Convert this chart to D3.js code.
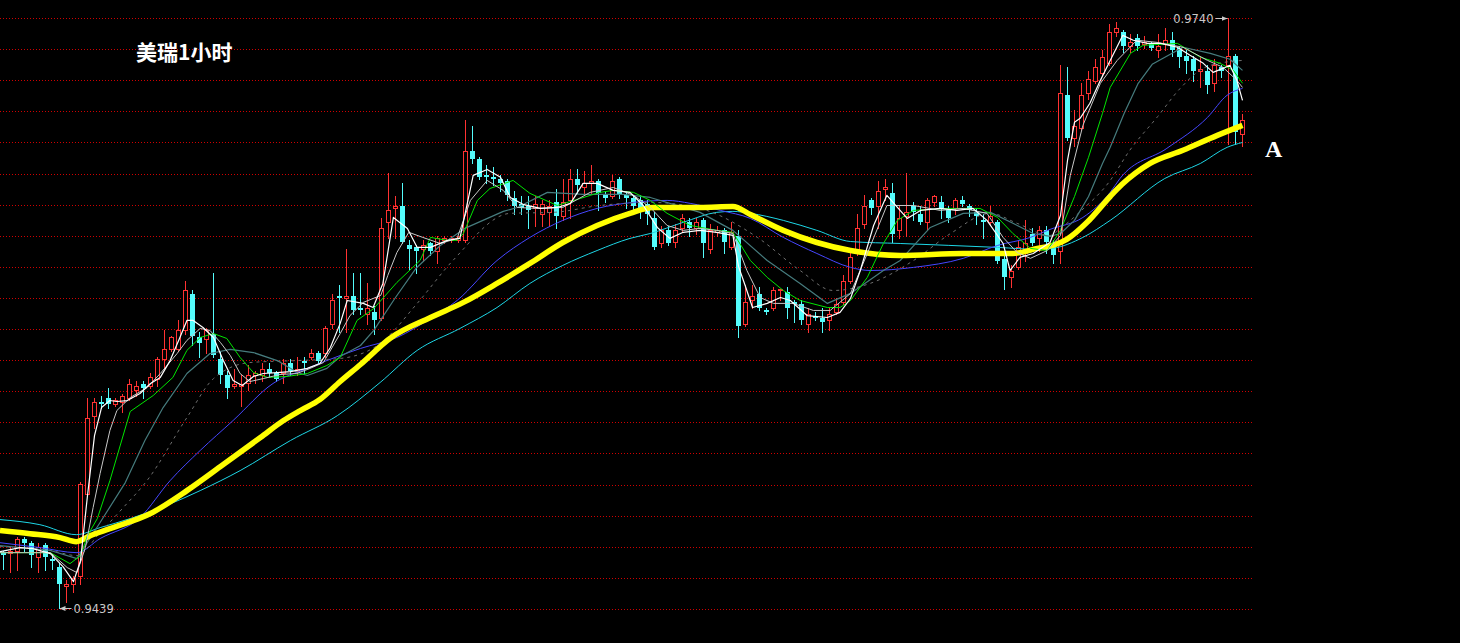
<!DOCTYPE html>
<html><head><meta charset="utf-8">
<script src="https://cdn.jsdelivr.net/npm/d3@7"></script>
<style>html,body{margin:0;padding:0;background:#000;overflow:hidden}svg{display:block}</style>
</head><body>
<svg id="chart" width="1460" height="643"></svg>
<script>
// ---- data: hourly OHLC candles ----
const open = [
0.9467,0.9467,0.9468,0.9474,0.9472,0.9465,0.9471,0.9464,0.9460,0.9450,
0.9451,0.9455,0.9497,0.9537,0.9544,0.9546,0.9543,0.9544,0.9546,0.9550,
0.9553,0.9552,0.9556,0.9566,0.9571,0.9571,0.9581,0.9599,0.9577,0.9576,
0.9579,0.9566,0.9558,0.9552,0.9552,0.9554,0.9558,0.9558,0.9561,0.9559,
0.9559,0.9564,0.9560,0.9565,0.9567,0.9569,0.9569,0.9584,0.9598,0.9597,
0.9598,0.9592,0.9589,0.9590,0.9587,0.9636,0.9643,0.9644,0.9624,0.9623,
0.9622,0.9625,0.9621,0.9627,0.9627,0.9627,0.9627,0.9672,0.9668,0.9660,
0.9659,0.9658,0.9657,0.9648,0.9645,0.9644,0.9643,0.9640,0.9641,0.9646,
0.9639,0.9647,0.9658,0.9654,0.9656,0.9657,0.9650,0.9649,0.9658,0.9650,
0.9648,0.9647,0.9645,0.9638,0.9625,0.9632,0.9626,0.9633,0.9636,0.9633,
0.9637,0.9622,0.9631,0.9632,0.9623,0.9629,0.9584,0.9596,0.9599,0.9591,
0.9592,0.9601,0.9600,0.9595,0.9594,0.9584,0.9588,0.9587,0.9586,0.9590,
0.9595,0.9606,0.9621,0.9635,0.9647,0.9644,0.9653,0.9651,0.9632,0.9639,
0.9644,0.9640,0.9636,0.9646,0.9646,0.9642,0.9643,0.9647,0.9644,0.9641,
0.9637,0.9636,0.9636,0.9617,0.9608,0.9613,0.9620,0.9630,0.9628,0.9632,
0.9623,0.9621,0.9701,0.9679,0.9684,0.9702,0.9708,0.9712,0.9717,0.9733,
0.9733,0.9726,0.9730,0.9727,0.9727,0.9724,0.9727,0.9729,0.9725,0.9721,
0.9719,0.9713,0.9713,0.9707,0.9715,0.9716,0.9721,0.9681];
const high = [
0.9468,0.9470,0.9475,0.9475,0.9473,0.9472,0.9472,0.9466,0.9462,0.9453,
0.9455,0.9503,0.9546,0.9546,0.9547,0.9551,0.9546,0.9548,0.9556,0.9555,
0.9555,0.9559,0.9567,0.9581,0.9578,0.9586,0.9606,0.9601,0.9580,0.9582,
0.9610,0.9570,0.9560,0.9561,0.9558,0.9563,0.9560,0.9564,0.9564,0.9560,
0.9566,0.9566,0.9567,0.9567,0.9571,0.9570,0.9583,0.9599,0.9604,0.9622,
0.9610,0.9610,0.9605,0.9593,0.9638,0.9661,0.9649,0.9656,0.9627,0.9624,
0.9627,0.9626,0.9629,0.9629,0.9629,0.9629,0.9688,0.9685,0.9669,0.9665,
0.9664,0.9660,0.9658,0.9652,0.9649,0.9649,0.9649,0.9647,0.9647,0.9653,
0.9658,0.9663,0.9663,0.9662,0.9665,0.9658,0.9652,0.9660,0.9659,0.9652,
0.9650,0.9650,0.9647,0.9641,0.9634,0.9634,0.9635,0.9640,0.9638,0.9638,
0.9638,0.9635,0.9634,0.9633,0.9636,0.9632,0.9604,0.9604,0.9603,0.9592,
0.9603,0.9602,0.9603,0.9596,0.9596,0.9592,0.9590,0.9592,0.9592,0.9597,
0.9609,0.9620,0.9640,0.9650,0.9648,0.9657,0.9658,0.9656,0.9644,0.9661,
0.9646,0.9644,0.9648,0.9650,0.9649,0.9644,0.9648,0.9649,0.9645,0.9643,
0.9640,0.9644,0.9637,0.9620,0.9614,0.9627,0.9637,0.9633,0.9634,0.9634,
0.9627,0.9716,0.9715,0.9693,0.9707,0.9713,0.9719,0.9724,0.9737,0.9738,
0.9734,0.9732,0.9732,0.9731,0.9728,0.9732,0.9735,0.9733,0.9726,0.9724,
0.9721,0.9720,0.9716,0.9719,0.9716,0.9740,0.9722,0.9691];
const low = [
0.9459,0.9457,0.9458,0.9468,0.9460,0.9457,0.9458,0.9459,0.9439,0.9442,
0.9447,0.9451,0.9496,0.9531,0.9541,0.9541,0.9542,0.9539,0.9545,0.9547,
0.9546,0.9551,0.9552,0.9562,0.9570,0.9570,0.9579,0.9573,0.9567,0.9569,
0.9567,0.9554,0.9546,0.9551,0.9542,0.9550,0.9554,0.9555,0.9557,0.9555,
0.9554,0.9558,0.9558,0.9559,0.9566,0.9564,0.9567,0.9582,0.9580,0.9580,
0.9589,0.9589,0.9584,0.9579,0.9586,0.9628,0.9628,0.9625,0.9612,0.9610,
0.9616,0.9619,0.9615,0.9625,0.9626,0.9626,0.9626,0.9666,0.9658,0.9656,
0.9655,0.9652,0.9647,0.9640,0.9640,0.9633,0.9634,0.9634,0.9634,0.9633,
0.9637,0.9638,0.9651,0.9651,0.9651,0.9642,0.9646,0.9648,0.9648,0.9643,
0.9642,0.9638,0.9635,0.9622,0.9623,0.9624,0.9623,0.9631,0.9629,0.9630,
0.9618,0.9620,0.9629,0.9620,0.9622,0.9577,0.9583,0.9592,0.9591,0.9589,
0.9591,0.9596,0.9587,0.9585,0.9584,0.9580,0.9586,0.9580,0.9581,0.9589,
0.9594,0.9605,0.9619,0.9633,0.9640,0.9633,0.9647,0.9626,0.9628,0.9629,
0.9637,0.9635,0.9632,0.9644,0.9638,0.9636,0.9640,0.9644,0.9639,0.9635,
0.9628,0.9635,0.9615,0.9602,0.9603,0.9612,0.9616,0.9624,0.9621,0.9620,
0.9615,0.9615,0.9678,0.9675,0.9683,0.9699,0.9707,0.9711,0.9716,0.9731,
0.9723,0.9723,0.9724,0.9725,0.9724,0.9720,0.9724,0.9721,0.9715,0.9712,
0.9708,0.9705,0.9702,0.9703,0.9710,0.9676,0.9676,0.9675];
const close = [
0.9466,0.9468,0.9474,0.9472,0.9466,0.9470,0.9465,0.9463,0.9451,0.9451,
0.9454,0.9502,0.9536,0.9544,0.9543,0.9543,0.9545,0.9547,0.9553,0.9552,
0.9551,0.9557,0.9566,0.9571,0.9577,0.9581,0.9601,0.9578,0.9574,0.9581,
0.9568,0.9558,0.9551,0.9553,0.9553,0.9558,0.9559,0.9561,0.9559,0.9556,
0.9564,0.9560,0.9561,0.9564,0.9569,0.9565,0.9582,0.9596,0.9597,0.9598,
0.9591,0.9591,0.9592,0.9586,0.9633,0.9642,0.9644,0.9626,0.9622,0.9621,
0.9624,0.9621,0.9628,0.9628,0.9628,0.9628,0.9672,0.9668,0.9659,0.9659,
0.9658,0.9656,0.9650,0.9644,0.9643,0.9642,0.9645,0.9645,0.9644,0.9639,
0.9646,0.9658,0.9655,0.9656,0.9657,0.9651,0.9648,0.9657,0.9650,0.9648,
0.9644,0.9643,0.9640,0.9623,0.9632,0.9625,0.9632,0.9638,0.9633,0.9636,
0.9625,0.9632,0.9632,0.9626,0.9631,0.9583,0.9595,0.9598,0.9592,0.9590,
0.9601,0.9602,0.9592,0.9594,0.9586,0.9589,0.9587,0.9585,0.9589,0.9594,
0.9606,0.9618,0.9633,0.9644,0.9643,0.9652,0.9654,0.9630,0.9638,0.9641,
0.9641,0.9636,0.9647,0.9649,0.9643,0.9638,0.9647,0.9645,0.9642,0.9639,
0.9636,0.9639,0.9616,0.9608,0.9611,0.9623,0.9625,0.9625,0.9632,0.9626,
0.9619,0.9702,0.9679,0.9685,0.9701,0.9709,0.9715,0.9720,0.9733,0.9735,
0.9726,0.9728,0.9726,0.9728,0.9725,0.9726,0.9729,0.9724,0.9720,0.9718,
0.9713,0.9714,0.9706,0.9716,0.9713,0.9721,0.9682,0.9688];

// ---- moving-average lines, read as [candle index, price] ----
const maWhite = [[-0.5,0.94676],[2.4,0.94697],[4.2,0.94692],[6.7,0.94666],[8.5,0.94600],[10,0.94523],[11,0.94630],[12,0.94963],[13,0.95269],[14,0.95412],[15.2,0.95448],[16.2,0.95443],[17.7,0.95448],[19.5,0.95484],[21,0.95535],[22.4,0.95566],[23.8,0.95652],[25.2,0.95770],[26.2,0.95857],[27.1,0.95857],[28.5,0.95821],[30,0.95770],[31.4,0.95652],[32.8,0.95550],[34.1,0.95525],[35.7,0.95571],[37.1,0.95586],[39.1,0.95591],[41,0.95596],[43.4,0.95612],[45.2,0.95637],[46.7,0.95719],[48.1,0.95842],[49.1,0.95959],[51.4,0.95944],[52.8,0.95923],[54.2,0.96046],[55.7,0.96383],[57.7,0.96327],[59.1,0.96230],[61,0.96230],[63.4,0.96266],[65.2,0.96276],[67.1,0.96598],[69.1,0.96628],[71,0.96588],[72.4,0.96485],[74.2,0.96450],[76.7,0.96429],[79.1,0.96434],[81,0.96455],[82.8,0.96557],[84.8,0.96557],[87.1,0.96521],[89.5,0.96511],[91.4,0.96444],[93.4,0.96332],[95.2,0.96276],[97.1,0.96307],[99.5,0.96317],[101.9,0.96307],[104.2,0.96291],[105,0.96133],[106,0.96030],[107,0.95923],[109.1,0.95944],[111,0.95974],[112.4,0.95959],[114.8,0.95882],[117.7,0.95872],[119.5,0.95898],[121,0.95969],[122.4,0.96112],[124.3,0.96342],[126.2,0.96496],[127.7,0.96434],[129.1,0.96378],[131,0.96419],[133.8,0.96429],[136.2,0.96419],[138.5,0.96429],[140.5,0.96368],[142.8,0.96250],[143.8,0.96112],[145.2,0.96179],[147.1,0.96199],[149.5,0.96255],[151,0.96393],[152,0.96674],[153,0.96869],[153.8,0.96889],[155.2,0.96966],[156.7,0.97083],[158.1,0.97185],[159.9,0.97313],[161.4,0.97288],[163.4,0.97272],[165.3,0.97272],[167.7,0.97252],[169.5,0.97211],[171.4,0.97170],[172.8,0.97124],[174.2,0.97144],[175.2,0.97160],[176.2,0.97083],[177,0.96981]];
const maSilver = [[-0.5,0.94671],[6.7,0.94671],[9.1,0.94595],[10.5,0.94569],[11.7,0.94697],[12.8,0.94901],[13.8,0.95075],[15.2,0.95295],[16.2,0.95397],[18.1,0.95463],[20.5,0.95514],[22.4,0.95586],[24.8,0.95688],[26.2,0.95755],[28.1,0.95816],[29.5,0.95806],[31,0.95744],[32.4,0.95678],[33.8,0.95586],[35.2,0.95545],[37.1,0.95560],[39.5,0.95581],[41.9,0.95586],[43.8,0.95612],[45.7,0.95642],[48.1,0.95790],[49.5,0.95882],[51.4,0.95949],[53.9,0.95985],[54.9,0.96087],[56.2,0.96204],[57.9,0.96307],[59.9,0.96281],[62.4,0.96250],[64.8,0.96276],[66.7,0.96470],[69.1,0.96572],[71.4,0.96521],[73.4,0.96434],[76.2,0.96429],[79.9,0.96434],[83.8,0.96511],[87.1,0.96536],[90,0.96496],[92.4,0.96434],[94.8,0.96342],[97.1,0.96317],[99.5,0.96327],[101.9,0.96317],[104.2,0.96301],[106.2,0.96112],[108.1,0.95974],[110,0.95944],[112.8,0.95944],[115.7,0.95908],[118.1,0.95908],[121,0.95995],[123.4,0.96199],[126.2,0.96444],[130,0.96444],[133.8,0.96419],[137.1,0.96429],[140.5,0.96404],[142.8,0.96281],[144.8,0.96204],[146.7,0.96174],[149.1,0.96214],[151,0.96291],[152.4,0.96598],[154.2,0.96853],[156.7,0.97068],[159.1,0.97185],[161.9,0.97288],[164.8,0.97277],[168.5,0.97252],[172,0.97185],[174.2,0.97150],[176.2,0.97083],[177,0.97047]];
const maGreen = [[-0.5,0.94671],[6.7,0.94671],[9.5,0.94615],[11,0.94656],[12,0.94758],[13.4,0.94845],[15.2,0.95039],[18.1,0.95392],[21.4,0.95474],[24.2,0.95566],[26.2,0.95704],[28.1,0.95770],[30,0.95790],[31.9,0.95765],[33.8,0.95668],[35.7,0.95591],[37.7,0.95566],[40.5,0.95571],[43.4,0.95586],[46.2,0.95627],[48.1,0.95668],[50.5,0.95857],[52.9,0.95918],[56.2,0.96051],[59.5,0.96163],[61,0.96281],[63.4,0.96266],[64.8,0.96266],[65.7,0.96301],[67.7,0.96470],[69.5,0.96531],[72.8,0.96572],[75.2,0.96506],[79.1,0.96444],[82.4,0.96480],[85.2,0.96511],[87.1,0.96521],[90,0.96511],[92.4,0.96470],[94.8,0.96404],[98.1,0.96342],[101.9,0.96317],[104.2,0.96307],[106.7,0.96163],[109.1,0.96077],[111.4,0.96010],[113.8,0.95959],[117.7,0.95923],[119.5,0.95923],[121,0.95959],[123.4,0.96077],[125.7,0.96250],[127.7,0.96368],[130,0.96419],[134.8,0.96429],[139.5,0.96429],[142,0.96383],[144.2,0.96301],[146.7,0.96225],[149.1,0.96214],[151,0.96317],[153,0.96490],[155,0.96690],[157,0.96915],[158.1,0.97047],[161,0.97221],[162.8,0.97262],[167.7,0.97272],[171,0.97201],[173.8,0.97170],[175.7,0.97134],[177,0.97068]];
const maTeal = [[-0.5,0.94707],[6.7,0.94682],[10.5,0.94641],[13.8,0.94825],[17.4,0.95029],[20.2,0.95244],[22.8,0.95412],[26.2,0.95586],[29.5,0.95688],[32.4,0.95709],[35.7,0.95693],[39.1,0.95652],[42,0.95591],[43.4,0.95576],[46.2,0.95612],[48.1,0.95673],[51,0.95729],[52.9,0.95806],[55.9,0.95969],[58.9,0.96122],[62.4,0.96240],[65.9,0.96327],[71.4,0.96414],[73.4,0.96434],[77.7,0.96511],[82.8,0.96501],[88.5,0.96501],[92.4,0.96485],[99.5,0.96409],[104.2,0.96317],[109.1,0.96163],[113.8,0.96046],[117.7,0.95944],[121,0.95995],[125.7,0.96112],[128.1,0.96163],[132.4,0.96332],[137.1,0.96404],[141,0.96409],[144.2,0.96353],[147.1,0.96301],[149.5,0.96286],[151,0.96301],[153,0.96368],[155,0.96490],[157,0.96659],[158.1,0.96741],[160.1,0.96915],[162.1,0.97068],[164.1,0.97165],[168.5,0.97252],[172.4,0.97221],[175.2,0.97191],[177,0.97134]];
const maDashed = [[-0.5,0.94702],[6.7,0.94682],[10.5,0.94656],[13.8,0.94774],[17.1,0.94901],[20.5,0.95039],[26.2,0.95361],[30,0.95560],[35.2,0.95642],[41.9,0.95652],[48.1,0.95663],[53.8,0.95739],[59.1,0.95944],[64.2,0.96163],[72.4,0.96404],[78.5,0.96409],[85.2,0.96444],[92.4,0.96460],[99.5,0.96429],[107.7,0.96281],[113.8,0.96112],[118.5,0.96010],[123.8,0.96046],[130,0.96163],[135.3,0.96301],[141,0.96404],[144.8,0.96353],[149.5,0.96291],[151,0.96327],[154,0.96419],[157.9,0.96562],[160.9,0.96726],[164.9,0.96899],[168.1,0.97042],[172,0.97155],[177,0.97185]];
const maBlue = [[-0.5,0.94722],[5.2,0.94697],[10.5,0.94671],[13.8,0.94743],[19.5,0.94850],[23.8,0.95039],[28.1,0.95193],[32.8,0.95346],[38.5,0.95535],[43.4,0.95612],[48.1,0.95678],[51,0.95714],[56.2,0.95770],[61,0.95867],[64.8,0.95959],[70.5,0.96163],[75.2,0.96281],[79.9,0.96368],[84.8,0.96429],[90,0.96460],[94.8,0.96470],[98.1,0.96455],[102.4,0.96419],[106.7,0.96378],[111.4,0.96281],[116.2,0.96199],[121,0.96128],[123.8,0.96112],[130,0.96128],[137.1,0.96174],[142,0.96240],[146.7,0.96281],[149.5,0.96322],[154.2,0.96383],[158.1,0.96511],[159.5,0.96582],[166.2,0.96736],[172,0.96894],[174.8,0.97007],[177,0.97042]];
const maYellow = [[-0.5,0.94784],[3.8,0.94768],[8.1,0.94748],[10.4,0.94727],[12.4,0.94758],[15.2,0.94794],[21,0.94871],[26.2,0.94988],[31,0.95111],[36.7,0.95259],[40,0.95346],[42.4,0.95397],[45.2,0.95453],[48.1,0.95545],[51,0.95632],[55.2,0.95765],[61,0.95872],[65.7,0.95949],[70.5,0.96046],[75.2,0.96148],[79.9,0.96255],[84.8,0.96342],[89.5,0.96404],[92.8,0.96434],[99.5,0.96434],[104.2,0.96439],[106.7,0.96398],[111.4,0.96317],[116.2,0.96255],[121,0.96214],[128.1,0.96189],[137.1,0.96199],[144.2,0.96199],[147.7,0.96225],[149.9,0.96240],[151.9,0.96271],[154.8,0.96358],[158.1,0.96490],[159.8,0.96552],[163.8,0.96659],[168.5,0.96726],[173.4,0.96802],[177,0.96853]];
const maCyan = [[-0.5,0.94840],[5.2,0.94814],[10.4,0.94763],[13.8,0.94799],[18.1,0.94845],[23.2,0.94911],[28.1,0.94988],[33.8,0.95090],[41,0.95244],[47.7,0.95371],[53.8,0.95540],[59.1,0.95704],[65.2,0.95816],[70.5,0.95923],[75.2,0.96046],[79.9,0.96138],[84.8,0.96214],[89.5,0.96276],[92.4,0.96301],[97.1,0.96358],[101.9,0.96409],[104.2,0.96414],[106.7,0.96404],[111.4,0.96368],[116.2,0.96317],[121,0.96260],[128.1,0.96250],[142,0.96230],[148.1,0.96220],[149.9,0.96225],[154.2,0.96281],[158.1,0.96368],[165.9,0.96582],[171,0.96659],[174.8,0.96741],[177,0.96766]];

const titleText = "美瑞1小时";
const sideLabel = "A";

// ---- layout ----
const W = 1460, H = 643;
const svg = d3.select("#chart");
svg.append("rect").attr("width", W).attr("height", H).attr("fill", "#000");

const x = d3.scaleLinear().domain([0, open.length - 1]).range([3.5, 1242.5]);
const y = d3.scaleLinear().domain([0.9439, 0.9740]).range([607.7, 18.3]);

// dotted horizontal grid
const gridTop = 18, gridStep = 31.1, gridCount = 20, gridRight = 1252;
const grid = svg.append("g").attr("shape-rendering", "crispEdges");
d3.range(gridCount).forEach(k => {
  const gy = Math.round(gridTop + k * gridStep) + 0.5;
  grid.append("line").attr("x1", 0).attr("x2", gridRight).attr("y1", gy).attr("y2", gy)
    .attr("stroke", "#d00000").attr("stroke-width", 1).attr("stroke-dasharray", "1,2");
});

// candles
const RED = "#ff3232", CYAN = "#54fcfc";
const candles = open.map((o, i) => ({ i, o, h: high[i], l: low[i], c: close[i] }));
const cg = svg.append("g").attr("shape-rendering", "crispEdges");
candles.forEach(d => {
  const up = d.c >= d.o;
  const col = up ? RED : CYAN;
  const cx = x(d.i);
  cg.append("line").attr("x1", cx).attr("x2", cx)
    .attr("y1", Math.round(y(d.h))).attr("y2", Math.round(y(d.l)) + 1)
    .attr("stroke", col).attr("stroke-width", 1);
  const top = Math.round(y(Math.max(d.o, d.c)));
  const bot = Math.round(y(Math.min(d.o, d.c)));
  if (up) {
    cg.append("rect").attr("x", cx - 2).attr("y", top + 0.5)
      .attr("width", 4).attr("height", Math.max(0, bot - top))
      .attr("fill", "#000").attr("stroke", col).attr("stroke-width", 1);
  } else {
    cg.append("rect").attr("x", cx - 2.5).attr("y", top)
      .attr("width", 5).attr("height", Math.max(1, bot - top))
      .attr("fill", col);
  }
});

// moving averages
const lineSharp = d3.line().x(d => x(d[0])).y(d => y(d[1]));
const lineSmooth = d3.line().x(d => x(d[0])).y(d => y(d[1])).curve(d3.curveMonotoneX);
const mg = svg.append("g").attr("fill", "none").attr("stroke-linejoin", "round");
const series = [
  { data: maCyan, color: "#1ed6e6", w: 1, smooth: true },
  { data: maBlue, color: "#4646ff", w: 1, smooth: true },
  { data: maDashed, color: "#6e6e6e", w: 1, dash: "3,4", smooth: true },
  { data: maTeal, color: "#467c7e", w: 1.2 },
  { data: maYellow, color: "#ffff00", w: 5.5, smooth: true },
  { data: maGreen, color: "#00e600", w: 1 },
  { data: maSilver, color: "#c8c8c8", w: 1 },
  { data: maWhite, color: "#ffffff", w: 1.2 }
];
series.forEach(s => {
  const p = mg.append("path").attr("d", (s.smooth ? lineSmooth : lineSharp)(s.data))
    .attr("stroke", s.color).attr("stroke-width", s.w);
  if (s.dash) p.attr("stroke-dasharray", s.dash);
});

// max / min markers
const fmt = d3.format(".4f");
const defs = svg.append("defs");
defs.append("marker").attr("id", "ah").attr("viewBox", "0 0 6 6").attr("refX", 6).attr("refY", 3)
  .attr("markerWidth", 6).attr("markerHeight", 6).attr("orient", "auto-start-reverse")
  .append("path").attr("d", "M0,0.5 L6,3 L0,5.5 Z").attr("fill", "#c8c8c8");
const iMax = d3.maxIndex(high), iMin = d3.minIndex(low);
const my = Math.round(y(high[iMax])) + 0.5;
svg.append("line").attr("x1", x(iMax) - 13).attr("x2", x(iMax) - 1).attr("y1", my).attr("y2", my)
  .attr("stroke", "#c8c8c8").attr("marker-end", "url(#ah)");
svg.append("text").attr("x", x(iMax) - 15).attr("y", my + 4).attr("text-anchor", "end")
  .attr("fill", "#c8c8c8").attr("font-family", "DejaVu Sans, sans-serif").attr("font-size", 11.5)
  .text(fmt(high[iMax]));
const ny = Math.round(y(low[iMin])) + 0.5;
svg.append("line").attr("x1", x(iMin) + 12).attr("x2", x(iMin)).attr("y1", ny).attr("y2", ny)
  .attr("stroke", "#c8c8c8").attr("marker-end", "url(#ah)");
svg.append("text").attr("x", x(iMin) + 14).attr("y", ny + 4)
  .attr("fill", "#c8c8c8").attr("font-family", "DejaVu Sans, sans-serif").attr("font-size", 11.5)
  .text(fmt(low[iMin]));

// title and side label
svg.append("text").attr("x", 136).attr("y", 60).attr("fill", "#fff")
  .attr("font-family", "'Noto Sans CJK SC', sans-serif").attr("font-weight", "bold").attr("font-size", 21)
  .text(titleText);
svg.append("text").attr("x", 1265).attr("y", 157).attr("fill", "#fff")
  .attr("font-family", "'Liberation Serif', serif").attr("font-weight", "bold").attr("font-size", 24)
  .text(sideLabel);
</script>
</body></html>
